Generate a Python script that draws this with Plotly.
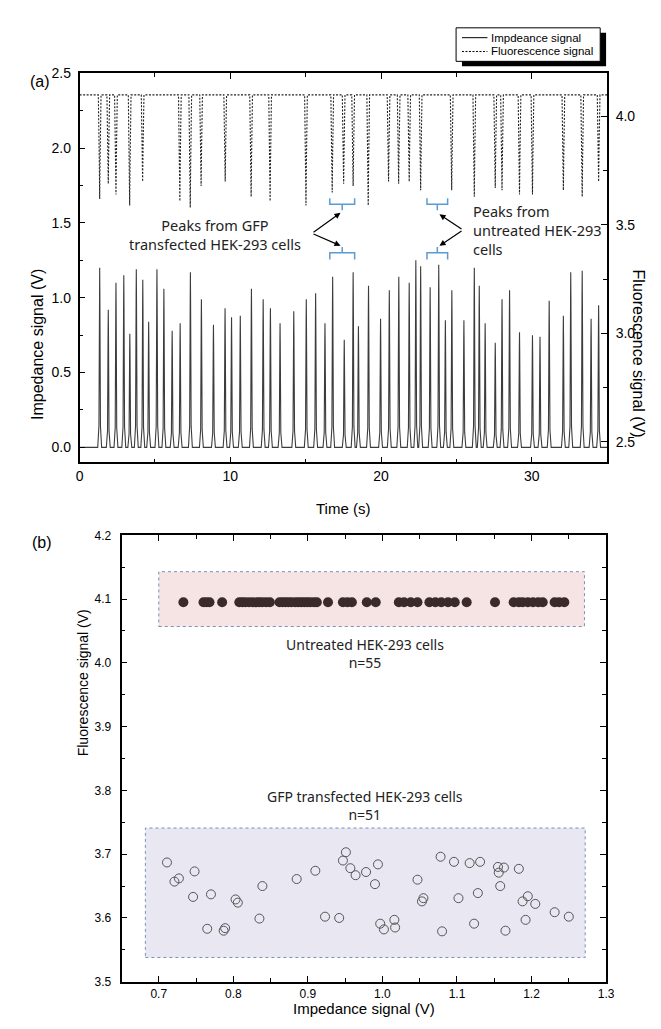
import plotly.graph_objects as go

# ---------------- data: panel (a) ----------------
# impedance peaks (time s, height V)
imp_t = [1.33, 1.90, 2.41, 2.93, 3.33, 3.76, 4.19, 4.58, 5.13, 5.59, 6.14, 6.67, 7.35, 8.08,
         8.88, 9.65, 10.08, 10.66, 11.40, 12.18, 12.66, 13.30, 14.21, 15.04, 15.66, 16.28,
         16.79, 17.56, 18.15, 18.50, 19.17, 19.97, 20.55, 21.18, 21.87, 22.31, 22.63, 23.26,
         23.83, 24.27, 24.70, 25.50, 26.19, 26.52, 26.91, 27.58, 28.03, 28.53, 29.19, 30.05,
         30.55, 31.16, 32.10, 32.59, 33.35, 33.94, 34.44]
imp_h = [1.20, 0.92, 1.10, 1.15, 0.76, 1.19, 1.12, 0.84, 1.19, 1.06, 0.78, 0.83, 1.17, 0.99,
         0.82, 0.93, 0.87, 0.88, 1.06, 0.99, 0.93, 0.83, 0.91, 0.99, 1.03, 0.83,
         1.14, 0.72, 1.17, 0.81, 1.08, 0.86, 1.05, 1.14, 1.10, 1.25, 1.21, 1.07,
         1.22, 0.85, 1.05, 0.85, 1.20, 1.08, 0.83, 0.70, 0.99, 1.05, 0.77, 0.75,
         0.74, 0.98, 0.88, 1.17, 1.18, 0.86, 0.95]
# fluorescence dips (time s, minimum V on right axis)
flu_t = [1.33, 1.90, 2.41, 3.32, 4.18, 6.65, 7.34, 8.06, 9.66, 11.38, 12.64, 15.02, 16.76,
         17.52, 18.15, 19.15, 20.50, 21.17, 21.87, 22.63, 24.69, 26.19, 27.58, 28.03, 29.19,
         30.05, 32.10, 33.35, 34.44]
flu_v = [3.62, 3.69, 3.64, 3.59, 3.70, 3.61, 3.58, 3.68, 3.70, 3.63, 3.61, 3.59, 3.65,
         3.69, 3.68, 3.59, 3.70, 3.69, 3.70, 3.66, 3.66, 3.63, 3.67, 3.66, 3.64,
         3.64, 3.66, 3.63, 3.70]
flu_base = 4.1
t_end = 35.0

# ---------------- data: panel (b) ----------------
untreated_x = [0.733, 0.760, 0.764, 0.768, 0.785, 0.808, 0.812, 0.816, 0.821, 0.826, 0.831,
               0.835, 0.839, 0.844, 0.849, 0.862, 0.866, 0.870, 0.874, 0.878, 0.883, 0.887,
               0.891, 0.895, 0.899, 0.903, 0.908, 0.912, 0.927, 0.947, 0.953, 0.959, 0.979,
               0.991, 1.022, 1.029, 1.038, 1.047, 1.063, 1.071, 1.079, 1.088, 1.097, 1.113,
               1.151, 1.176, 1.183, 1.188, 1.195, 1.202, 1.209, 1.215, 1.231, 1.237, 1.244]
untreated_y = [4.095] * len(untreated_x)

gfp_x = [0.711, 0.721, 0.727, 0.748, 0.746, 0.765, 0.770, 0.787, 0.789, 0.803, 0.806, 0.835,
         0.839, 0.885, 0.910, 0.923, 0.942, 0.947, 0.951, 0.957, 0.964, 0.978, 0.990, 0.994,
         0.997, 1.002, 1.016, 1.017, 1.047, 1.053, 1.055, 1.078, 1.080, 1.096, 1.102, 1.117,
         1.123, 1.128, 1.131, 1.155, 1.163, 1.156, 1.158, 1.165, 1.183, 1.188, 1.195, 1.192,
         1.205, 1.231, 1.250]
gfp_y = [3.687, 3.657, 3.662, 3.673, 3.633, 3.583, 3.637, 3.580, 3.584, 3.629, 3.624, 3.599,
         3.650, 3.661, 3.674, 3.602, 3.600, 3.690, 3.703, 3.678, 3.667, 3.672, 3.653, 3.684,
         3.591, 3.582, 3.597, 3.585, 3.660, 3.626, 3.631, 3.696, 3.579, 3.688, 3.631, 3.686,
         3.591, 3.639, 3.688, 3.680, 3.679, 3.671, 3.650, 3.580, 3.677, 3.626, 3.634, 3.597,
         3.622, 3.609, 3.602]

# ---------------- build line traces from the listed peaks ----------------
# each pulse: wide low skirt + narrow spike (shape constants, not data)
base_w, skirt_w, skirt_f, tip_w = 0.13, 0.05, 0.12, 0.012
ix, iy = [0.0], [0.0]
for t, h in zip(imp_t, imp_h):
    ix += [t - base_w, t - skirt_w, t - tip_w, t, t + tip_w, t + skirt_w, t + base_w]
    iy += [0.0, skirt_f * h, 0.85 * h, h, 0.85 * h, skirt_f * h, 0.0]
ix.append(t_end); iy.append(0.0)

fx, fy = [0.0], [flu_base]
for t, v in zip(flu_t, flu_v):
    fx += [t - 0.09, t - 0.03, t, t + 0.03, t + 0.09]
    fy += [flu_base, flu_base - 0.6 * (flu_base - v), v, flu_base - 0.6 * (flu_base - v), flu_base]
fx.append(t_end); fy.append(flu_base)

W, H = 661, 1029
def px(x): return x / W
def py(y): return 1 - y / H

fig = go.Figure()
fig.add_trace(go.Scatter(x=ix, y=iy, mode="lines", line=dict(color="#3c3c3c", width=1.1),
                         name="Impdeance signal", xaxis="x", yaxis="y", showlegend=False))
fig.add_trace(go.Scatter(x=fx, y=fy, mode="lines", line=dict(color="#222", width=1.1, dash="2px,1.5px"),
                         name="Fluorescence signal", xaxis="x", yaxis="y2", showlegend=False))
fig.add_trace(go.Scatter(x=untreated_x, y=untreated_y, mode="markers",
                         marker=dict(size=10, color="#3b2a2a", line=dict(width=0)),
                         name="Untreated", xaxis="x2", yaxis="y3", showlegend=False))
fig.add_trace(go.Scatter(x=gfp_x, y=gfp_y, mode="markers",
                         marker=dict(size=9, color="rgba(0,0,0,0)", line=dict(width=1, color="#555")),
                         name="GFP", xaxis="x2", yaxis="y3", showlegend=False))

tickfont_a = dict(family="Liberation Sans, Arial", size=14, color="black")
tickfont_b = dict(family="Liberation Sans, Arial", size=12, color="black")
axis_common = dict(showline=True, linecolor="black", linewidth=1.6, ticks="inside",
                   tickcolor="black", showgrid=False, zeroline=False)

fig.update_layout(
    width=W, height=H, autosize=False, margin=dict(l=0, r=0, t=0, b=0),
    paper_bgcolor="white", plot_bgcolor="rgba(0,0,0,0)",
    xaxis=dict(domain=[px(69), px(607)], range=[0, 35], dtick=10, tick0=0, ticklen=6, tickwidth=1.4,
               mirror="ticks", anchor="y", tickfont=tickfont_a,
               minor=dict(dtick=5, ticklen=4, tickwidth=1.2, ticks="inside", tickcolor="black"),
               **axis_common),
    yaxis=dict(domain=[py(453), py(58)], range=[-0.1, 2.5], dtick=0.5, tick0=0, tickformat=".1f",
               ticklen=6, tickwidth=1.4, anchor="x", tickfont=tickfont_a, ticklabelstandoff=4,
               minor=dict(dtick=0.25, ticklen=4, tickwidth=1.2, ticks="inside", tickcolor="black"),
               **axis_common),
    yaxis2=dict(overlaying="y", side="right", anchor="x", range=[2.405, 4.2], dtick=0.5, tick0=2.5,
                tickformat=".1f", ticklen=6, tickwidth=1.4, tickfont=tickfont_a, ticklabelstandoff=4,
                minor=dict(dtick=0.25, ticklen=4, tickwidth=1.2, ticks="inside", tickcolor="black"),
                **axis_common),
    xaxis2=dict(domain=[px(111.7), px(606)], range=[0.65, 1.3], dtick=0.1, tick0=0.7, tickformat=".1f",
                ticklen=6, tickwidth=1.4, mirror="ticks", anchor="y3", tickfont=tickfont_b,
                minor=dict(dtick=0.05, tick0=0.65, ticklen=4, tickwidth=1.2, ticks="inside", tickcolor="black"),
                **axis_common),
    yaxis3=dict(domain=[py(980), py(527)], range=[3.5, 4.2], dtick=0.1, tick0=3.5, tickformat=".1f",
                ticklen=6, tickwidth=1.4, mirror="ticks", anchor="x2", tickfont=tickfont_b,
                ticklabelstandoff=6,
                minor=dict(dtick=0.05, ticklen=4, tickwidth=1.2, ticks="inside", tickcolor="black"),
                **axis_common),
)

shapes = []
# panel (b) highlight boxes
shapes.append(dict(type="rect", xref="x2", yref="y3", x0=0.700, x1=1.271, y0=4.057, y1=4.143,
                   fillcolor="#f6e4e4", line=dict(color="#7a90bd", width=1, dash="dot"), layer="below"))
shapes.append(dict(type="rect", xref="x2", yref="y3", x0=0.682, x1=1.272, y0=3.538, y1=3.741,
                   fillcolor="#e9e7f1", line=dict(color="#7a90bd", width=1, dash="dot"), layer="below"))

# blue brackets in panel (a)  (x in s, y in left-axis V)
blue = "#5b9bd5"
def bracket(xl, xr, yend, ymid, ystem):
    xc = (xl + xr) / 2
    return [dict(type="path", xref="x", yref="y",
                 path=f"M {xl},{yend} L {xl},{ymid} L {xr},{ymid} L {xr},{yend}",
                 line=dict(color=blue, width=1.5)),
            dict(type="line", xref="x", yref="y", x0=xc, x1=xc, y0=ymid, y1=ystem,
                 line=dict(color=blue, width=1.5))]
for xl, xr in [(16.60, 18.25), (23.05, 24.42)]:
    shapes += bracket(xl, xr, 1.665, 1.625, 1.585)
    shapes += bracket(xl, xr, 1.255, 1.300, 1.338)

# manual legend box with shadow (pixel -> paper)
lx0, lx1, ly0, ly1 = 453, 600, 12, 46
shapes.append(dict(type="rect", xref="paper", yref="paper", x0=px(lx0 + 6), x1=px(lx1 + 6),
                   y0=py(ly1 + 5), y1=py(ly0 + 5), fillcolor="black", line=dict(width=0)))
shapes.append(dict(type="rect", xref="paper", yref="paper", x0=px(lx0), x1=px(lx1),
                   y0=py(ly1), y1=py(ly0), fillcolor="white", line=dict(color="black", width=1)))
shapes.append(dict(type="line", xref="paper", yref="paper", x0=px(459), x1=px(485), y0=py(22), y1=py(22),
                   line=dict(color="black", width=1)))
shapes.append(dict(type="line", xref="paper", yref="paper", x0=px(459), x1=px(485), y0=py(36), y1=py(36),
                   line=dict(color="black", width=1, dash="2px,1.5px")))
fig.update_layout(shapes=shapes)

ann = []
small = dict(family="Liberation Sans Narrow, Arial Narrow, Liberation Sans, Arial", size=11.5, color="black")
ann.append(dict(xref="paper", yref="paper", x=px(487), y=py(22), text="Impdeance signal", showarrow=False,
                xanchor="left", yanchor="middle", font=small))
ann.append(dict(xref="paper", yref="paper", x=px(487), y=py(36), text="Fluorescence signal", showarrow=False,
                xanchor="left", yanchor="middle", font=small))

lab = dict(family="Liberation Sans, Arial", color="black")
ann.append(dict(xref="paper", yref="paper", x=px(16), y=py(56), text="(a)", showarrow=False,
                font=dict(size=16, **lab)))
ann.append(dict(xref="paper", yref="paper", x=px(18), y=py(534), text="(b)", showarrow=False,
                font=dict(size=16, **lab)))
ann.append(dict(xref="paper", yref="paper", x=px(16), y=py(255), text="Impedance signal (V)", showarrow=False,
                textangle=-90, font=dict(size=16, **lab)))
ann.append(dict(xref="paper", yref="paper", x=px(650), y=py(255), text="Fluorescence signal (V)", showarrow=False,
                textangle=90, font=dict(size=16, **lab)))
ann.append(dict(xref="paper", yref="paper", x=px(338), y=py(500), text="Time (s)", showarrow=False,
                font=dict(size=15, **lab)))
ann.append(dict(xref="paper", yref="paper", x=px(62), y=py(753), text="Fluorescence signal (V)", showarrow=False,
                textangle=-90, font=dict(size=14, **lab)))
ann.append(dict(xref="paper", yref="paper", x=px(359), y=py(1018), text="Impedance signal (V)", showarrow=False,
                font=dict(size=15, **lab)))

note = dict(family="Noto Sans, Open Sans", size=14.5, color="#222")
ann.append(dict(xref="x", yref="y", x=9.0, y=1.42, text="Peaks from GFP<br>transfected HEK-293 cells",
                showarrow=False, align="center", font=note))
ann.append(dict(xref="x", yref="y", x=25.94, y=1.45, text="Peaks from<br>untreated HEK-293<br>cells",
                showarrow=False, align="left", xanchor="left", font=note))
# arrows
for vx, vy, tx, ty in [(15.42, 1.43, 17.31, 1.567), (15.42, 1.43, 17.31, 1.347),
                       (25.44, 1.452, 23.88, 1.557), (25.44, 1.452, 23.88, 1.347)]:
    ann.append(dict(xref="x", yref="y", x=tx, y=ty, ax=vx, ay=vy, axref="x", ayref="y", text="",
                    showarrow=True, arrowhead=2, arrowsize=1, arrowwidth=1.2, arrowcolor="black", standoff=0))

ann.append(dict(xref="x2", yref="y3", x=0.976, y=4.015, text="Untreated HEK-293 cells<br>n=55",
                showarrow=False, align="center", font=dict(family="Noto Sans, Open Sans", size=14, color="#222")))
ann.append(dict(xref="x2", yref="y3", x=0.976, y=3.776, text="GFP transfected HEK-293 cells<br>n=51",
                showarrow=False, align="center", font=dict(family="Noto Sans, Open Sans", size=14, color="#222")))
fig.update_layout(annotations=ann)

fig.write_html("out.html")
